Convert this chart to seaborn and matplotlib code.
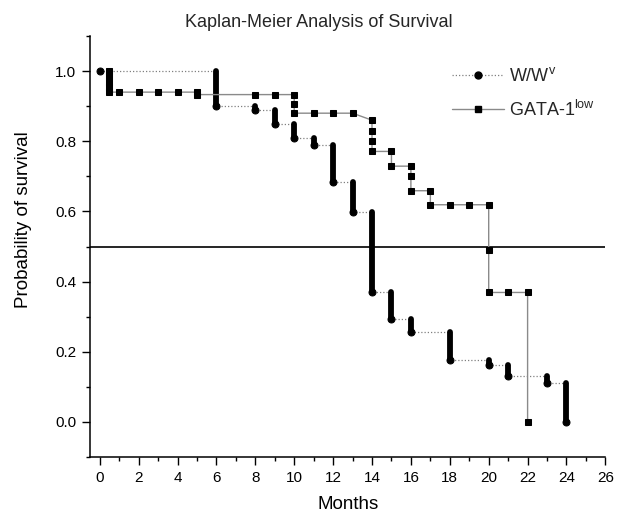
import pandas as pd
import seaborn as sns
import matplotlib.pyplot as plt
from matplotlib.lines import Line2D
from matplotlib.ticker import MultipleLocator, FormatStrFormatter

# W/W^v: survival after each death time (stacks drawn from previous value)
ww_months = [0, 6, 8, 9, 10, 11, 12, 13, 14, 15, 16, 18, 20, 21, 23, 24]
ww_surv = [1.0, 0.90, 0.889, 0.85, 0.81, 0.788, 0.683, 0.597, 0.37,
           0.293, 0.255, 0.176, 0.162, 0.13, 0.11, 0.0]

# GATA-1^low: every marked point, in drawing order
gata_months = [0.5, 0.5, 0.5, 0.5, 0.5, 1, 2, 3, 4, 5, 5, 8, 9, 10, 10, 10,
               11, 12, 13, 14, 14, 14, 14, 15, 15, 16, 16, 16, 17, 17,
               18, 19, 20, 20, 20, 21, 22, 22]
gata_surv = [1.0, 0.985, 0.97, 0.955, 0.94, 0.94, 0.94, 0.94, 0.94, 0.94, 0.933,
             0.933, 0.933, 0.933, 0.905, 0.88, 0.88, 0.88, 0.88, 0.86, 0.83, 0.80,
             0.771, 0.771, 0.729, 0.729, 0.70, 0.659, 0.659, 0.619, 0.619, 0.619,
             0.619, 0.49, 0.369, 0.369, 0.369, 0.0]

median_level = 0.5
labels = [r"W/W$^{v}$", r"GATA-1$^{low}$"]

sns.set_theme(style="ticks")
plt.rcParams["font.family"] = ["Liberation Sans", "DejaVu Sans"]
plt.rcParams["mathtext.default"] = "regular"

fig = plt.figure(figsize=(6.18, 5.15), dpi=100)
ax = fig.add_axes([0.1456, 0.1126, 0.834, 0.8175])

ww = pd.DataFrame({"month": ww_months, "surv": ww_surv})
gata = pd.DataFrame({"month": gata_months, "surv": gata_surv})

# dotted step curve for W/W^v
sns.lineplot(data=ww, x="month", y="surv", estimator=None, sort=False,
             drawstyle="steps-post", color="#808080", lw=0.9,
             linestyle=(0, (1, 1.6)), marker="o", markersize=5,
             markerfacecolor="black", markeredgecolor="black", ax=ax, zorder=3)
# dense stacks of circles at each drop
stacks = ax.vlines(ww["month"][1:], ww["surv"][1:], ww["surv"].values[:-1],
                   colors="black", lw=4.2, zorder=4)
stacks.set_capstyle("round")

sns.lineplot(data=gata, x="month", y="surv", estimator=None, sort=False,
             color="#8a8a8a", lw=1.0, marker="s", markersize=4.8,
             markerfacecolor="black", markeredgecolor="black", ax=ax, zorder=5)

ax.axhline(median_level, color="black", lw=1.2, zorder=2)

ax.set_xlim(-0.5, 26)
ax.set_ylim(-0.1, 1.1)
ax.xaxis.set_major_locator(MultipleLocator(2))
ax.xaxis.set_minor_locator(MultipleLocator(1))
ax.yaxis.set_major_locator(MultipleLocator(0.2))
ax.yaxis.set_minor_locator(MultipleLocator(0.1))
ax.yaxis.set_major_formatter(FormatStrFormatter("%.1f"))
ax.tick_params(which="major", direction="out", length=6, width=1,
               color="black", labelsize=11, labelcolor="black", pad=4)
ax.tick_params(which="minor", direction="out", length=3, width=1, color="black")
sns.despine(ax=ax)
for side in ["left", "bottom"]:
    ax.spines[side].set_color("black")
    ax.spines[side].set_linewidth(1.1)

ax.set_xlabel("Months", fontsize=13.5, color="black")
ax.set_ylabel("Probability of survival", fontsize=13.5, color="black")
ax.xaxis.set_label_coords(0.5, -0.093)
ax.yaxis.set_label_coords(-0.113, 0.563)

fig.text(0.516, 1 - 27 / 515, "Kaplan-Meier Analysis of Survival",
         ha="center", va="baseline", fontsize=13)

handles = [
    Line2D([], [], color="#808080", lw=0.9, linestyle=(0, (1, 1.6)), marker="o",
           markersize=5, markerfacecolor="black", markeredgecolor="black"),
    Line2D([], [], color="#8a8a8a", lw=1.0, marker="s", markersize=4.8,
           markerfacecolor="black", markeredgecolor="black"),
]
ax.legend(handles, labels, loc="upper left", bbox_to_anchor=(0.703, 0.926),
          frameon=False, fontsize=13, borderpad=0, borderaxespad=0,
          handlelength=2.87, handletextpad=0.28, labelspacing=0.8)

fig.savefig("out.png", dpi=100)
